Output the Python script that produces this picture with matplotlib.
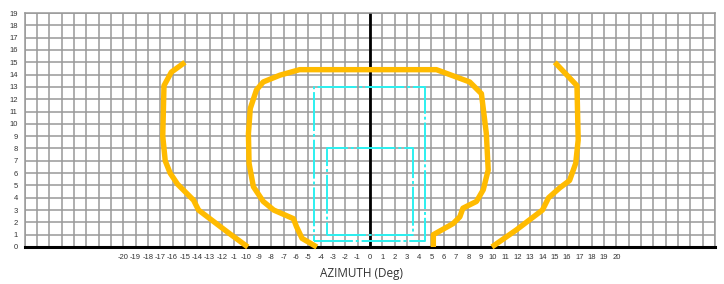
import numpy as np
from matplotlib import pyplot as plt

# azimuth / elevation outlines (deg)
left_x = [-15.0, -16.1, -16.7, -16.8, -16.6, -16.2, -15.6, -14.3, -13.9, -11.4, -9.9]
left_y = [15.0, 14.2, 13.1, 9.0, 7.0, 6.0, 5.1, 3.8, 3.0, 1.1, 0.0]

right_x = [15.0, 16.8, 16.9, 16.7, 16.2, 15.4, 14.5, 14.0, 11.9, 9.9]
right_y = [15.0, 13.1, 8.7, 6.8, 5.4, 4.8, 4.0, 3.0, 1.4, 0.0]

inner_x = [-4.3, -5.5, -5.95, -6.2, -7.8, -8.65, -9.45, -9.8, -9.85, -9.7, -9.2, -8.65,
           -7.3, -5.7, 5.4, 8.1, 9.05, 9.45, 9.6, 9.2, 8.65, 7.55, 7.3, 6.75, 5.15, 5.15]
inner_y = [0.0, 0.7, 1.65, 2.3, 3.0, 3.7, 4.9, 6.8, 9.2, 11.25, 12.75, 13.4,
           13.95, 14.4, 14.4, 13.4, 12.45, 9.2, 6.25, 4.65, 3.7, 3.15, 2.45, 1.9, 1.0, 0.0]

# cyan boxes: (x0, x1, y0, y1)
outer_box = [-4.5, 4.5, 0.5, 13.0]
inner_box = [-3.5, 3.5, 1.0, 8.0]

x_tick_vals = list(range(-20, 21))
x_tick_labels = [str(v) for v in x_tick_vals]
x_tick_labels[x_tick_vals.index(-11)] = "-1"   # as shown in the original
y_tick_vals = list(range(0, 20))

xmin, xmax = -28, 28
ymin, ymax = 0, 19

ORANGE = "#FFBB00"
CYAN = "#2CF0F0"


def box(ax, b):
    x0, x1, y0, y1 = b
    ax.plot([x0, x1, x1, x0, x0], [y0, y0, y1, y1, y0], color=CYAN, lw=1.4,
            dashes=(20, 1.5, 1.5, 1.5), zorder=3)


def main():
    plt.rcParams['font.family'] = ['Liberation Sans', 'DejaVu Sans']
    fig = plt.figure(figsize=(7.24, 2.84), dpi=100)
    ax = fig.add_axes([0.0341, 0.1303, 0.9535, 0.8239])
    ax.set_xlim(xmin, xmax)
    ax.set_ylim(ymin, ymax)

    # grid on every degree
    ax.set_xticks(range(xmin, xmax + 1), minor=True)
    ax.set_yticks(range(ymin, ymax + 1), minor=True)
    ax.set_xticks(x_tick_vals)
    ax.set_xticklabels(x_tick_labels)
    ax.set_yticks(y_tick_vals)
    ax.grid(True, which='both', color='#999999', lw=1.1, zorder=0)
    ax.tick_params(which='both', length=0)
    ax.tick_params(axis='x', labelsize=5.5, pad=5, colors='#333333')
    ax.tick_params(axis='y', labelsize=5.5, pad=5, colors='#333333')

    for s in ['top', 'right', 'left']:
        ax.spines[s].set_color('#999999')
        ax.spines[s].set_linewidth(1.1)
    ax.spines['bottom'].set_color('black')
    ax.spines['bottom'].set_linewidth(2.2)
    ax.spines['bottom'].set_zorder(4)

    ax.axvline(0, color='black', lw=2.0, zorder=2)

    box(ax, outer_box)
    box(ax, inner_box)

    for xs, ys in [(left_x, left_y), (right_x, right_y), (inner_x, inner_y)]:
        ax.plot(xs, ys, color=ORANGE, lw=3.9, solid_capstyle='butt', zorder=5, clip_on=False)

    fig.text(0.5, 0.015, "AZIMUTH (Deg)", ha='center', va='bottom', fontsize=8.5,
             color='#333333', family=['Open Sans', 'DejaVu Sans'])

    fig.savefig("out.png", dpi=100)


if __name__ == "__main__":
    main()
